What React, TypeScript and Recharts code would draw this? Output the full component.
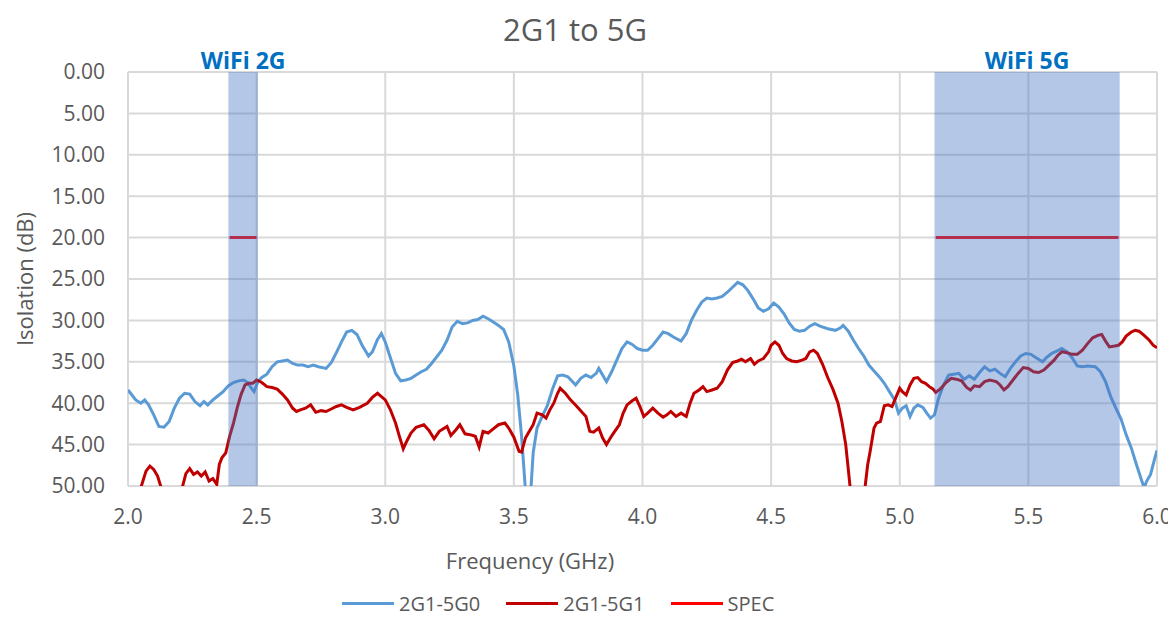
import React from 'react';
import { LineChart, Line, XAxis, YAxis, CartesianGrid, ReferenceArea, Legend } from 'recharts';

const BLUE = '#5b9bd5';
const RED = '#c00000';
const SPEC_RED = '#ff0000';
const TEXT = '#595959';
const FONT = '"Open Sans", "DejaVu Sans", sans-serif';

const xTicks = [2.0, 2.5, 3.0, 3.5, 4.0, 4.5, 5.0, 5.5, 6.0];
const yTicks = [0, 5, 10, 15, 20, 25, 30, 35, 40, 45, 50];

const blueFreq = [
  2.00, 2.01, 2.03, 2.05, 2.065, 2.08, 2.10, 2.12, 2.14, 2.16, 2.18, 2.20, 2.22, 2.24, 2.26, 2.28, 2.295, 2.31, 2.33, 2.35,
  2.37, 2.39, 2.41, 2.43, 2.45, 2.465, 2.48, 2.49, 2.505, 2.52, 2.54, 2.56, 2.58, 2.60, 2.62, 2.64, 2.66, 2.68, 2.70, 2.72,
  2.74, 2.77, 2.79, 2.81, 2.83, 2.85, 2.87, 2.89, 2.91, 2.935, 2.95, 2.97, 2.985, 3.00, 3.02, 3.04, 3.06, 3.08, 3.10, 3.12,
  3.14, 3.16, 3.18, 3.20, 3.22, 3.24, 3.26, 3.28, 3.30, 3.32, 3.34, 3.36, 3.38, 3.40, 3.42, 3.44, 3.46, 3.48, 3.50, 3.515,
  3.53, 3.545, 3.555, 3.565, 3.575, 3.59, 3.61, 3.63, 3.65, 3.67, 3.69, 3.71, 3.74, 3.76, 3.78, 3.80, 3.82, 3.83, 3.845, 3.86,
  3.88, 3.90, 3.92, 3.94, 3.96, 3.98, 4.00, 4.02, 4.04, 4.06, 4.08, 4.10, 4.12, 4.15, 4.17, 4.19, 4.21, 4.23, 4.25, 4.27,
  4.29, 4.31, 4.33, 4.35, 4.37, 4.39, 4.41, 4.43, 4.45, 4.47, 4.49, 4.51, 4.53, 4.55, 4.57, 4.59, 4.61, 4.63, 4.65, 4.67,
  4.69, 4.72, 4.75, 4.77, 4.78, 4.80, 4.82, 4.84, 4.86, 4.88, 4.90, 4.92, 4.94, 4.96, 4.98, 4.995, 5.01, 5.025, 5.04, 5.055,
  5.07, 5.09, 5.105, 5.12, 5.135, 5.15, 5.17, 5.19, 5.21, 5.23, 5.25, 5.27, 5.29, 5.31, 5.33, 5.35, 5.37, 5.39, 5.41, 5.43,
  5.45, 5.47, 5.49, 5.51, 5.53, 5.555, 5.57, 5.59, 5.61, 5.63, 5.65, 5.67, 5.69, 5.71, 5.73, 5.76, 5.78, 5.80, 5.82, 5.84,
  5.86, 5.88, 5.90, 5.92, 5.94, 5.95, 5.96, 5.975, 5.99, 6.00,
];
const blueIso = [
  38.4, 38.8, 39.6, 40.0, 39.6, 40.2, 41.4, 42.8, 42.9, 42.2, 40.6, 39.4, 38.8, 38.9, 39.8, 40.3, 39.8, 40.2, 39.6, 39.1,
  38.6, 37.9, 37.5, 37.3, 37.2, 37.5, 38.2, 38.6, 37.4, 36.9, 36.5, 35.6, 35.0, 34.9, 34.8, 35.2, 35.4, 35.4, 35.6, 35.4,
  35.6, 35.8, 35.1, 33.9, 32.6, 31.4, 31.2, 31.7, 33.0, 34.3, 33.8, 32.3, 31.6, 32.6, 34.5, 36.4, 37.3, 37.2, 37.0, 36.6,
  36.2, 35.9, 35.2, 34.4, 33.6, 32.4, 30.8, 30.1, 30.4, 30.3, 30.0, 29.9, 29.5, 29.8, 30.2, 30.6, 31.1, 32.6, 35.5, 39.0,
  44.0, 50.5, 53.0, 51.0, 46.0, 43.0, 41.6, 40.3, 38.3, 36.7, 36.6, 36.8, 37.8, 37.0, 36.6, 36.9, 36.4, 35.8, 36.6, 37.4,
  36.2, 34.8, 33.4, 32.6, 32.9, 33.4, 33.6, 33.6, 33.0, 32.2, 31.4, 31.6, 32.0, 32.5, 31.6, 30.0, 28.8, 27.8, 27.3, 27.4,
  27.3, 27.1, 26.6, 26.0, 25.4, 25.7, 26.4, 27.4, 28.5, 28.9, 28.6, 27.9, 28.4, 29.2, 30.3, 31.1, 31.3, 31.2, 30.7, 30.4,
  30.7, 31.0, 31.2, 30.9, 30.6, 31.3, 32.4, 33.4, 34.3, 35.4, 36.1, 36.8, 37.6, 38.6, 39.6, 41.2, 40.6, 40.3, 41.6, 40.6,
  40.2, 40.5, 41.2, 41.8, 41.4, 39.5, 37.8, 36.6, 36.5, 36.4, 37.1, 36.7, 37.1, 36.3, 35.6, 36.1, 35.9, 36.4, 36.8, 35.8,
  35.0, 34.3, 34.0, 34.1, 34.5, 35.0, 34.5, 34.0, 33.7, 33.4, 33.8, 34.5, 35.5, 35.6, 35.5, 35.6, 36.2, 37.4, 39.2, 40.6,
  41.9, 43.8, 45.4, 47.4, 49.3, 50.2, 49.4, 48.6, 46.8, 45.7,
];

const redFreq = [
  2.00, 2.03, 2.05, 2.07, 2.085, 2.10, 2.115, 2.13, 2.15, 2.19, 2.21, 2.225, 2.24, 2.255, 2.27, 2.285, 2.30, 2.315, 2.33, 2.345,
  2.355, 2.365, 2.38, 2.395, 2.41, 2.425, 2.44, 2.455, 2.47, 2.485, 2.50, 2.52, 2.54, 2.56, 2.58, 2.60, 2.62, 2.64, 2.655, 2.67,
  2.69, 2.71, 2.73, 2.75, 2.77, 2.79, 2.81, 2.83, 2.85, 2.875, 2.90, 2.93, 2.95, 2.97, 2.985, 3.00, 3.02, 3.04, 3.055, 3.07,
  3.085, 3.10, 3.12, 3.15, 3.17, 3.19, 3.21, 3.24, 3.255, 3.275, 3.29, 3.31, 3.33, 3.35, 3.365, 3.38, 3.40, 3.42, 3.44, 3.465,
  3.48, 3.50, 3.52, 3.53, 3.545, 3.56, 3.575, 3.59, 3.61, 3.625, 3.64, 3.655, 3.67, 3.68, 3.70, 3.72, 3.745, 3.765, 3.78, 3.795,
  3.81, 3.83, 3.845, 3.86, 3.875, 3.89, 3.91, 3.925, 3.94, 3.96, 3.975, 3.99, 4.005, 4.02, 4.04, 4.06, 4.08, 4.095, 4.11, 4.13,
  4.15, 4.17, 4.185, 4.20, 4.22, 4.235, 4.25, 4.27, 4.29, 4.31, 4.33, 4.35, 4.37, 4.385, 4.40, 4.42, 4.435, 4.45, 4.47, 4.49,
  4.50, 4.515, 4.53, 4.545, 4.56, 4.58, 4.60, 4.62, 4.635, 4.65, 4.665, 4.68, 4.70, 4.72, 4.74, 4.76, 4.775, 4.79, 4.80, 4.81,
  4.83, 4.85, 4.865, 4.875, 4.885, 4.90, 4.91, 4.925, 4.94, 4.955, 4.97, 4.985, 5.00, 5.01, 5.025, 5.04, 5.055, 5.07, 5.085, 5.10,
  5.115, 5.13, 5.14, 5.16, 5.18, 5.20, 5.22, 5.24, 5.26, 5.275, 5.29, 5.31, 5.33, 5.35, 5.375, 5.39, 5.405, 5.42, 5.44, 5.46,
  5.48, 5.50, 5.52, 5.54, 5.56, 5.58, 5.60, 5.615, 5.63, 5.65, 5.67, 5.69, 5.71, 5.73, 5.75, 5.77, 5.785, 5.80, 5.815, 5.835,
  5.85, 5.865, 5.88, 5.90, 5.915, 5.93, 5.95, 5.97, 5.985, 6.00,
];
const redIso = [
  53.0, 52.0, 50.2, 48.2, 47.6, 48.0, 48.8, 50.3, 52.0, 52.0, 50.3, 48.5, 47.9, 48.6, 48.3, 48.8, 48.3, 49.4, 49.1, 49.8,
  47.4, 46.6, 46.0, 44.0, 42.4, 40.5, 38.9, 37.8, 37.6, 37.6, 37.2, 37.5, 38.0, 38.1, 38.3, 38.9, 39.6, 40.6, 41.0, 40.8,
  40.6, 40.2, 41.1, 40.9, 41.0, 40.7, 40.4, 40.2, 40.5, 40.8, 40.5, 40.0, 39.3, 38.8, 39.2, 39.6, 40.8, 42.4, 44.0, 45.5,
  44.5, 43.6, 42.9, 42.6, 43.3, 44.3, 43.4, 42.8, 43.9, 43.2, 42.6, 43.7, 43.8, 44.0, 45.3, 43.4, 43.6, 43.1, 42.6, 42.4,
  43.0, 44.1, 45.8, 45.9, 44.2, 43.4, 42.6, 41.2, 41.4, 41.8, 40.8, 40.0, 38.8, 38.2, 38.8, 39.6, 40.4, 41.1, 41.6, 43.4,
  43.5, 43.0, 44.2, 45.0, 44.2, 43.5, 42.6, 41.2, 40.2, 39.7, 39.4, 40.4, 41.6, 41.2, 40.6, 41.2, 41.7, 41.4, 41.0, 41.6,
  41.2, 41.6, 40.0, 38.8, 38.4, 38.0, 38.6, 38.4, 38.2, 37.4, 36.0, 35.1, 34.9, 34.7, 35.0, 34.6, 35.3, 34.9, 34.6, 33.8,
  33.0, 32.6, 33.0, 34.0, 34.6, 34.9, 35.0, 34.8, 34.6, 33.8, 33.6, 34.0, 35.3, 36.9, 38.3, 40.0, 42.2, 45.0, 48.0, 51.0,
  56.0, 54.0, 50.2, 47.5, 45.8, 43.0, 42.4, 42.2, 40.3, 40.2, 40.4, 39.3, 38.2, 38.6, 39.0, 37.8, 37.0, 36.9, 37.4, 37.6,
  38.0, 38.3, 38.7, 38.2, 37.5, 37.0, 37.1, 37.3, 38.1, 38.4, 37.9, 38.0, 37.4, 37.2, 37.4, 37.8, 38.4, 38.0, 37.2, 36.4,
  35.7, 35.8, 36.2, 36.3, 36.0, 35.4, 34.8, 34.2, 33.8, 33.9, 34.1, 34.1, 33.6, 32.8, 32.1, 31.8, 31.7, 32.5, 33.2, 33.1,
  33.0, 32.6, 31.9, 31.4, 31.2, 31.3, 31.8, 32.4, 33.0, 33.3,
];

const specFreq = [2.395, 2.5, 3.8, 5.14, 5.85];
const specIso = [20, 20, null, 20, 20];

const wifi2G = [2.39, 2.505];
const wifi5G = [5.135, 5.855];

const seriesNames = ['2G1-5G0', '2G1-5G1', 'SPEC'];
const seriesColors = [BLUE, RED, SPEC_RED];

const blueData = blueFreq.map((f, i) => ({ f, v: blueIso[i] }));
const redData = redFreq.map((f, i) => ({ f, v: redIso[i] }));
const specData = specFreq.map((f, i) => ({ f, v: specIso[i] }));

const renderLegend = () => (
  <div style={{ display: 'flex', alignItems: 'center', fontFamily: FONT, fontSize: 20, color: TEXT }}>
    {seriesNames.map((n, i) => (
      <div key={n} style={{ display: 'flex', alignItems: 'center', marginRight: 26 }}>
        <div style={{ width: 52, height: 3, background: seriesColors[i], marginRight: 5 }} />
        <span>{n}</span>
      </div>
    ))}
  </div>
);

export default function App() {
  return (
    <div style={{ position: 'relative', width: 1168, height: 603, fontFamily: FONT, background: '#fff' }}>
      <div
        style={{
          position: 'absolute', left: 0, width: 1134, top: 1, textAlign: 'center',
          fontSize: 31, color: TEXT, lineHeight: '40px',
        }}
      >
        2G1 to 5G
      </div>
      <div
        style={{
          position: 'absolute', left: 322, width: 400, top: 537, textAlign: 'center',
          fontSize: 22, color: TEXT, lineHeight: '30px',
        }}
      >
        Frequency (GHz)
      </div>
      <LineChart width={1168} height={603} margin={{ top: 64, right: 19, bottom: 57, left: 0 }}>
        <CartesianGrid stroke="#d9d9d9" strokeWidth={2} />
        <XAxis
          type="number"
          dataKey="f"
          domain={[2, 6]}
          ticks={xTicks}
          interval={0}
          allowDataOverflow
          axisLine={false}
          tickLine={false}
          tickSize={0}
          tickMargin={23}
          tickFormatter={(v: number) => v.toFixed(1)}
          tick={{ fill: TEXT, fontSize: 21, fontFamily: FONT }}
          height={40}
        />
        <YAxis
          type="number"
          domain={[0, 50]}
          ticks={yTicks}
          interval={0}
          reversed
          allowDataOverflow
          axisLine={false}
          tickLine={false}
          tickSize={0}
          tickMargin={23}
          width={120}
          tickFormatter={(v: number) => v.toFixed(2)}
          tick={{ fill: TEXT, fontSize: 21, fontFamily: FONT }}
          label={{
            value: 'Isolation (dB)', angle: -90, position: 'insideLeft', offset: 17,
            style: { textAnchor: 'middle', fill: TEXT, fontSize: 22, fontFamily: FONT },
          }}
        />
        <Line data={blueData} dataKey="v" stroke={BLUE} strokeWidth={3} dot={false} isAnimationActive={false} name={seriesNames[0]} />
        <Line data={redData} dataKey="v" stroke={RED} strokeWidth={3} dot={false} isAnimationActive={false} name={seriesNames[1]} />
        <Line data={specData} dataKey="v" stroke={SPEC_RED} strokeWidth={3} dot={false} connectNulls={false} isAnimationActive={false} name={seriesNames[2]} />
        <ReferenceArea
          x1={wifi2G[0]} x2={wifi2G[1]} y1={0} y2={50}
          fill="#4472c4" fillOpacity={0.4} stroke="none"
          zIndex={2000}
          label={{ value: 'WiFi 2G', position: 'top', offset: 3, fill: '#0070c0', fontSize: 23, fontWeight: 'bold', fontFamily: FONT }}
        />
        <ReferenceArea
          x1={wifi5G[0]} x2={wifi5G[1]} y1={0} y2={50}
          fill="#4472c4" fillOpacity={0.4} stroke="none"
          zIndex={2000}
          label={{ value: 'WiFi 5G', position: 'top', offset: 3, fill: '#0070c0', fontSize: 23, fontWeight: 'bold', fontFamily: FONT }}
        />
        <Legend content={renderLegend} wrapperStyle={{ position: 'absolute', left: 334, top: 582, width: 'auto', height: 28 }} />
      </LineChart>
    </div>
  );
}
